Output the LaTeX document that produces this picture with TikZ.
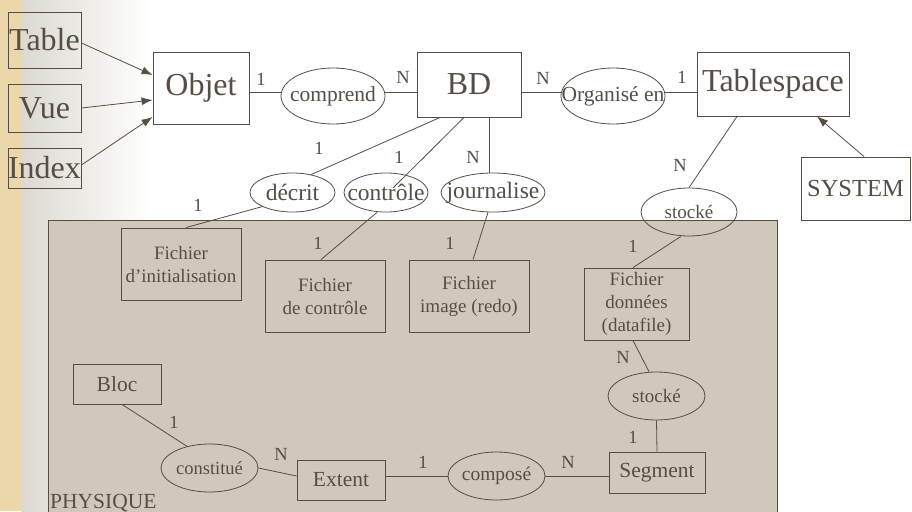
\documentclass[tikz,border=0pt]{standalone}
\usepackage{fontspec}
\setmainfont{Liberation Serif}
\usetikzlibrary{shapes.geometric,arrows.meta}

\definecolor{ink}{HTML}{564E45}
\definecolor{panelfill}{HTML}{D0C8BB}
\definecolor{parch}{HTML}{EBD7A9}
\definecolor{fade}{HTML}{DCD9D1}

\newcommand{\fsz}[1]{\fontsize{#1}{#1}\selectfont}
\newcommand{\nowide}[1]{\makebox[0pt]{#1}}

\begin{document}
\begin{tikzpicture}[x=1pt,y=-1pt,
  every node/.style={text=ink},
  box/.style={draw=ink, line width=0.9pt, rectangle, inner sep=0pt},
  rel/.style={draw=ink, line width=0.8pt, ellipse, inner sep=0pt},
  link/.style={draw=ink, line width=0.8pt},
  isa/.style={link, -{Latex[length=11pt,width=8pt]}},
  card/.style={inner sep=0pt, font=\fsz{18.5}},
  big/.style={font=\fsz{32}},
  mid/.style={font=\fsz{21.5}},
  small/.style={font=\fontsize{19}{23}\selectfont, align=center}]

  % page and background
  \useasboundingbox (0,0) rectangle (912,511);
  \fill[white] (0,0) rectangle (912,511);
  \shade[left color=fade, right color=white] (21,0) rectangle (150,511);
  \fill[parch] (0,0) rectangle (21,511);

  % physical layer panel
  \filldraw[fill=panelfill, draw=ink, line width=0.9pt] (48,220) rectangle (777,520);
  \node[anchor=base west, inner sep=0pt, font=\fsz{21.5}] (physique) at (50,508) {PHYSIQUE};

  % logical entities
  \node[box, big, minimum width=73pt, minimum height=56pt] (table) at (44.5,40) {Table};
  \node[box, big, minimum width=73pt, minimum height=48pt] (vue) at (44.5,108) {Vue};
  \node[box, big, minimum width=73pt, minimum height=40pt] (index) at (44.5,168) {Index};
  \node[box, big, minimum width=96pt, minimum height=72pt] (objet) at (201,88) {Objet};
  \node[box, big, minimum width=104pt, minimum height=65pt] (bd) at (469,84.5) {BD};
  \node[box, big, minimum width=152pt, minimum height=64pt] (tablespace) at (773,84) {Tablespace};
  \node[box, font=\fsz{24.5}, minimum width=109pt, minimum height=63pt] (system) at (855.5,188.5) {SYSTEM};

  % relations of the upper level
  \node[rel, minimum width=104pt, minimum height=56pt, font=\fsz{21.5}] (comprend) at (333,96) {\nowide{comprend}};
  \node[rel, minimum width=104pt, minimum height=56pt, font=\fsz{21.5}] (organise) at (613,96) {\nowide{Organisé en}};
  \node[rel, minimum width=85pt, minimum height=39pt, font=\fsz{23.5}] (decrit) at (292.5,192.5) {\nowide{décrit}};
  \node[rel, minimum width=84pt, minimum height=39pt, font=\fsz{23.5}] (controle) at (386,192.5) {\nowide{contrôle}};
  \node[rel, minimum width=104pt, minimum height=39pt, font=\fsz{23.5}] (journalise) at (493,192.5) {\nowide{journalise}};
  \node[rel, minimum width=96pt, minimum height=48pt, font=\fsz{19}] (stockeA) at (689,212) {\nowide{stocké}};

  % files
  \node[box, small, minimum width=120pt, minimum height=72pt] (finit) at (181,264) {Fichier\\d’initialisation};
  \node[box, small, minimum width=120pt, minimum height=72pt] (fctrl) at (325,296) {Fichier\\de contrôle};
  \node[box, small, minimum width=120pt, minimum height=72pt] (fimage) at (469,296) {Fichier\\image (redo)};
  \node[box, small, minimum width=105pt, minimum height=72pt] (fdonnees) at (636.5,304) {Fichier\\données\\(datafile)};

  % storage hierarchy
  \node[rel, minimum width=97pt, minimum height=48pt, font=\fsz{19}] (stockeB) at (656.5,396) {\nowide{stocké}};
  \node[box, mid, minimum width=96pt, minimum height=41pt] (segment) at (657,472.5) {Segment};
  \node[rel, minimum width=97pt, minimum height=48pt, font=\fsz{19.5}] (compose) at (496.5,476) {\nowide{composé}};
  \node[box, mid, minimum width=88pt, minimum height=40pt] (extent) at (341,480) {Extent};
  \node[rel, minimum width=97pt, minimum height=48pt, font=\fsz{18.5}] (constitue) at (209.5,468) {\nowide{constitué}};
  \node[box, mid, minimum width=88pt, minimum height=40pt] (bloc) at (117,384) {Bloc};

  % generalisation arrows
  \draw[isa] ([yshift=-3pt]table.east) -- ([yshift=13pt]objet.west);
  \draw[isa] (vue.east) -- ([yshift=-12pt]objet.west);
  \draw[isa] ([yshift=3pt]index.east) -- ([yshift=-29pt]objet.west);
  \draw[isa] ([xshift=8.5pt]system.north) -- ([xshift=44pt]tablespace.south);

  % associations
  \coordinate (row) at (0,92);
  \draw[link] (objet.east |- row) -- (comprend.west |- row);
  \draw[link] (comprend.east |- row) -- (bd.west |- row);
  \draw[link] (bd.east |- row) -- (organise.west |- row);
  \draw[link] (organise.east |- row) -- (tablespace.west |- row);
  \draw[link] ([xshift=-29pt]bd.south) -- (decrit.44);
  \draw[link] ([xshift=-5pt]bd.south) -- ([xshift=7pt,yshift=4.5pt]controle.center);
  \draw[link] ([xshift=20pt]bd.south) -- ([xshift=-4pt]journalise.north);
  \draw[link] (decrit.205) -- ([xshift=5pt]finit.north);
  \draw[link] ([xshift=-9pt]controle.south) -- ([xshift=-4pt]fctrl.north);
  \draw[link] ([xshift=-5pt]journalise.south) -- ([xshift=4pt]fimage.north);
  \draw[link] ([xshift=-36pt]tablespace.south) -- (stockeA.north);
  \draw[link] ([xshift=-8pt]stockeA.south) -- ([xshift=-3.5pt]fdonnees.north);
  \draw[link] ([xshift=-3.5pt]fdonnees.south) -- ([xshift=-7.5pt]stockeB.north);
  \draw[link] (stockeB.south) -- (segment.north);
  \draw[link] (compose.east) -- (segment.west |- compose.east);
  \draw[link] (extent.east |- compose.west) -- (compose.west);
  \draw[link] (constitue.east) -- ([yshift=4pt]extent.west);
  \draw[link] ([xshift=5pt]bloc.south) -- (constitue.136);

  % cardinalities
  \node[card] (c1) at (261,79) {1};
  \node[card] (c2) at (403,77) {N};
  \node[card] (c3) at (543,78) {N};
  \node[card] (c4) at (682,77) {1};
  \node[card] (c5) at (319,148) {1};
  \node[card] (c6) at (399,157) {1};
  \node[card] (c7) at (473,157) {N};
  \node[card] (c8) at (198,205) {1};
  \node[card] (c9) at (318,243) {1};
  \node[card] (c10) at (450,243) {1};
  \node[card] (c11) at (680,165) {N};
  \node[card] (c12) at (633,246) {1};
  \node[card] (c13) at (623,357) {N};
  \node[card] (c14) at (633,437) {1};
  \node[card] (c15) at (568,462) {N};
  \node[card] (c16) at (423,462) {1};
  \node[card] (c17) at (281,454) {N};
  \node[card] (c18) at (174,422) {1};
\end{tikzpicture}
\end{document}
